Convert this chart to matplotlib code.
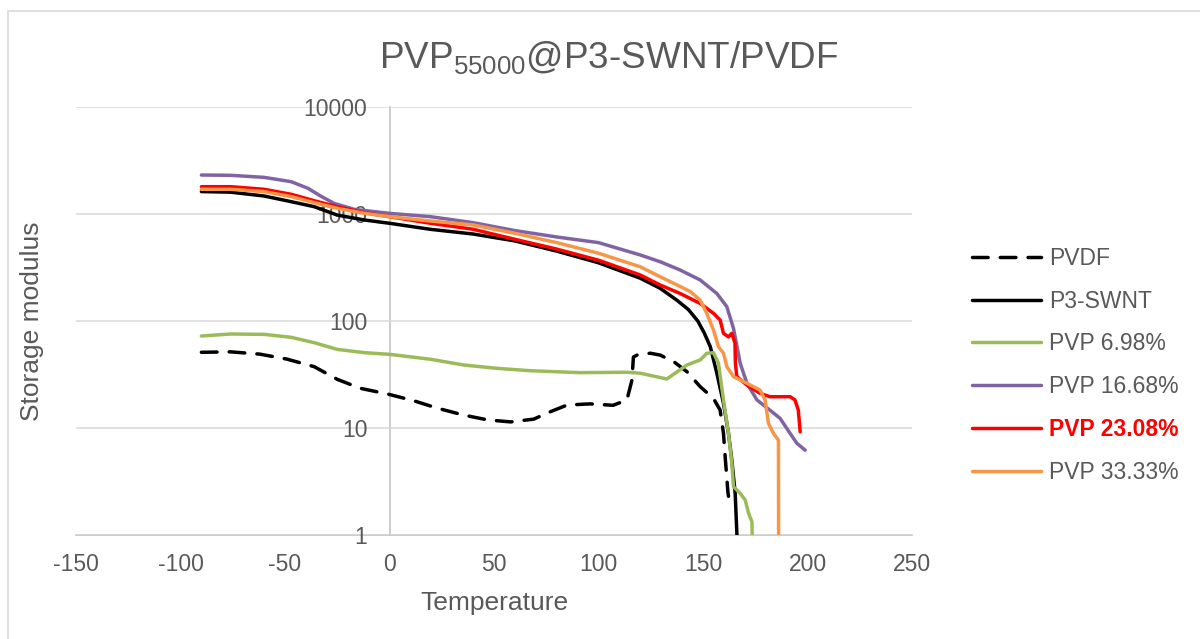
import numpy as np
import matplotlib.pyplot as plt
from matplotlib.patches import Rectangle
from matplotlib.ticker import FixedLocator, FixedFormatter

plt.rcParams['font.family'] = ['Liberation Sans', 'DejaVu Sans']
plt.rcParams['mathtext.default'] = 'regular'
plt.rcParams['axes.unicode_minus'] = False

# storage modulus vs temperature
pvdf_t = [-90, -76, -62, -49, -36, -25, -14, -1, 11.5, 23, 35.5, 47, 58, 69, 77, 85, 96, 107,
          113.6, 116, 116.7, 118.4, 124.8, 129.5, 136, 142.3, 148.7, 155, 158.2, 159.8, 160.6, 161.9, 162.2]
pvdf_v = [51, 51.5, 49, 44, 37.4, 28.5, 23.5, 20.8, 18, 15.3, 13.2, 11.9, 11.4, 12.1, 14.2, 16.4, 16.8, 16.3,
          18.3, 28, 46, 48, 50, 48, 41.7, 33.6, 24.3, 18.9, 14.7, 8.9, 5.4, 2.54, 2.3]

swnt_t = [-90, -76, -60, -47, -36, -25, -12, 0, 19.6, 40, 60, 80, 100, 120, 129.5, 137.4, 143, 147.5,
          150.5, 153.5, 156.6, 159.8, 162.2, 163.8, 165.4, 166.2, 167]
swnt_v = [1620, 1600, 1473, 1303, 1170, 977, 879, 819, 719, 650, 560, 450, 350, 251, 202, 157, 128, 100,
          78, 57.5, 32.6, 17, 8.9, 5.0, 2.45, 1.04, 0.5]

p698_t = [-90, -76, -60, -47, -36, -25, -12, 0, 19.6, 35.5, 51.5, 67.4, 91.3, 113.6, 120, 132.7, 142.3,
          148.7, 151.8, 155, 157.4, 159.8, 162.2, 163.8, 164.6, 167.8, 170.2, 171.8, 173.4, 173.6]
p698_v = [72.4, 75.6, 75, 70.4, 62.7, 54.3, 50.6, 48.8, 43.9, 38.8, 36.1, 34.3, 32.9, 33.2, 32.5, 28.7, 38.8,
          43.3, 49.9, 50.6, 40.3, 18.3, 8.9, 4.7, 2.83, 2.45, 2.12, 1.6, 1.33, 0.9]

p1668_t = [-90, -76, -60, -47, -39, -33, -26.6, -17, 0, 19.6, 40, 60, 80, 100, 120, 129.5, 139, 148.6,
           156.6, 161.4, 164.6, 167.8, 171, 175.8, 182, 186.9, 191.7, 194.9, 198.9]
p1668_v = [2313, 2300, 2200, 2004, 1738, 1473, 1259, 1106, 1014, 944, 830, 700, 610, 540, 414, 358, 300, 242,
           181, 136, 85, 40.3, 26.2, 18.3, 14.7, 12.3, 8.9, 7.2, 6.2]

p2308_t = [-90, -76, -60, -47, -36, -25, -12, 0, 19.6, 40, 60, 80, 100, 120, 129.5, 139, 148.6, 155,
           158.2, 159.8, 162.2, 163.8, 165.3, 165.5, 166.2, 171, 177.3, 182, 191.7, 194, 195.6, 196.5]
p2308_v = [1800, 1800, 1702, 1528, 1330, 1170, 1029, 944, 819, 720, 580, 470, 370, 269, 217, 181, 146, 118,
           102, 76.7, 71, 76.7, 62, 40.3, 30.2, 25.2, 21.1, 19.6, 19.6, 18.3, 14.7, 9.2]

p3333_t = [-90, -76, -60, -47, -36, -25, -12, 0, 19.6, 40, 60, 80, 100, 120, 129.5, 136, 144, 148.6,
           151.8, 155, 157.4, 159.8, 161.4, 164.6, 171, 177.3, 179.7, 181.3, 183.7, 186.1, 186.2]
p3333_v = [1702, 1702, 1618, 1452, 1276, 1130, 1014, 944, 860, 790, 660, 540, 430, 321, 259, 225, 188, 157,
           118, 82.5, 57.5, 50, 37.4, 30.2, 26.2, 22.6, 18.3, 11.1, 8.9, 7.7, 0.5]

labels = ['PVDF', 'P3-SWNT', 'PVP 6.98%', 'PVP 16.68%', 'PVP 23.08%', 'PVP 33.33%']
colors = ['black', 'black', '#9BBB59', '#8064A2', '#FF0000', '#F79646']
ticks_x = [-150, -100, -50, 0, 50, 100, 150, 200, 250]
ticks_y = [1, 10, 100, 1000, 10000]
tick_labels_y = ['1', '10', '100', '1000', '10000']

txt = '#595959'
fig = plt.figure(figsize=(12, 6.39), dpi=100)
ax = fig.add_axes([76/1200, 1-535/639, 836/1200, 428/639])

series = [(pvdf_t, pvdf_v), (swnt_t, swnt_v), (p698_t, p698_v),
          (p1668_t, p1668_v), (p2308_t, p2308_v), (p3333_t, p3333_v)]
for (t, v), lab, c in zip(series, labels, colors):
    if lab == 'PVDF':
        ax.plot(t, v, color=c, lw=2.5, label=lab, dashes=(4.5, 3.5), dash_capstyle='round')
    else:
        ax.plot(t, v, color=c, lw=2.5, label=lab, solid_capstyle='round')

ax.set_yscale('log')
ax.set_xlim(-150, 250)
ax.set_ylim(1, 10000)
ax.xaxis.set_major_locator(FixedLocator(ticks_x))
ax.yaxis.set_major_locator(FixedLocator(ticks_y))
ax.yaxis.set_major_formatter(FixedFormatter(tick_labels_y))
ax.yaxis.set_minor_locator(FixedLocator([]))
ax.grid(axis='y', color='#d9d9d9', lw=1.1)
ax.tick_params(length=0, labelsize=16.5, labelcolor=txt)
ax.tick_params(axis='x', pad=13)
ax.tick_params(axis='y', pad=16)

for s in ['top', 'right']:
    ax.spines[s].set_visible(False)
ax.spines['left'].set_position(('data', 0))
for s in ['left', 'bottom']:
    ax.spines[s].set_color('#bfbfbf')
    ax.spines[s].set_linewidth(1.1)
    ax.spines[s].set_zorder(1.5)

ax.set_xlabel('Temperature', fontsize=19, color=txt)
ax.set_ylabel('Storage modulus', fontsize=19, color=txt)
ax.xaxis.set_label_coords(0.5, -0.13)
ax.yaxis.set_label_coords(-0.038, 0.5)

fig.text(609/1200, 1-68/639, 'PVP$_{55000}$@P3-SWNT/PVDF', fontsize=26.6, color=txt,
         ha='center', va='baseline')

leg = fig.legend(loc='upper left', bbox_to_anchor=(972/1200, 1-247/639), frameon=False,
                 fontsize=16.5, handlelength=3.0, handletextpad=0.35, labelspacing=0.86,
                 borderpad=0, borderaxespad=0)
for t in leg.get_texts():
    t.set_color(txt)
leg.get_texts()[4].set_color('#FF0000')
leg.get_texts()[4].set_fontweight('bold')

fig.add_artist(Rectangle((8/1200, -0.1), 1.2, 1.1 - 11/639, transform=fig.transFigure,
                         fill=False, edgecolor='#d9d9d9', lw=1.2))

fig.savefig('out.png', dpi=100)
